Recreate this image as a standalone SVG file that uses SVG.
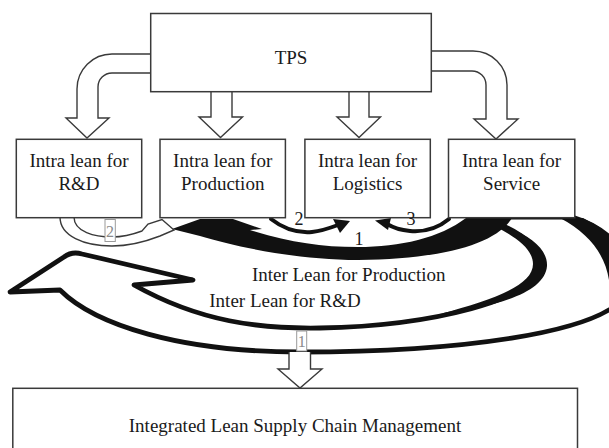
<svg xmlns="http://www.w3.org/2000/svg" width="609" height="448" viewBox="0 0 609 448">
  <style>
    .box { fill: #ffffff; stroke: #3a3a3a; stroke-width: 1.5; }
    .txt { font-family: "Liberation Serif", "Times New Roman", serif; font-size: 19px; fill: #1a1a1a; text-anchor: middle; }
    .num { font-family: "Liberation Serif", "Times New Roman", serif; font-size: 18px; fill: #1a1a1a; text-anchor: middle; }
    .tag { font-family: "Liberation Serif", "Times New Roman", serif; font-size: 16px; fill: #8a8a8a; text-anchor: middle; }
    .tagbox { fill: #ffffff; stroke: #9a9a9a; stroke-width: 1; }
    .hollow { fill: #ffffff; stroke: #3a3a3a; stroke-width: 1.4; stroke-linejoin: miter; }
    .bold { fill: #ffffff; stroke: #111111; stroke-width: 4.8; stroke-linejoin: round; }
    .ink { fill: #111111; stroke: none; }
    .inkline { fill: none; stroke: #111111; stroke-linecap: round; }
  </style>

  <!-- connectors -->
  <g id="connectors">
    <!-- TPS fan-out block arrows -->
    <path class="hollow" d="M 151,54 L 112,54 A 35,35 0 0 0 77,89 L 77,118 L 66,118 L 87,138 L 109,118 L 98,118 L 98,87 A 14,14 0 0 1 112,73 L 151,73 Z"/>
    <path class="hollow" d="M 211,91 L 211,117 L 199,117 L 220.5,137.5 L 242.5,117 L 232,117 L 232,91"/>
    <path class="hollow" d="M 349,91 L 349,117 L 337,117 L 359,137.5 L 380.5,117 L 369,117 L 369,91"/>
    <path class="hollow" d="M 431,51 L 473,51 A 34,34 0 0 1 507,85 L 507,119 L 518,119 L 496,139 L 474,119 L 486,119 L 486,85 A 14,14 0 0 0 472,71 L 431,71 Z"/>

    <!-- Inter Lean for R&D: large hollow curved arrow -->
    <path class="bold" d="M 10,292 L 64,257 Q 72,251 82,254 L 193,280 L 134,285 C 200,322 260,329 320,328 C 430,326 540,300 540,264 C 540,242 510,226 478,217 L 572,217 C 615,230 640,265 628,292 C 605,335 450,352 300,352 C 180,352 95,325 60,290 Z"/>
    <!-- heavier shading on the right side of the rings -->
    <path class="ink" d="M 478,218 C 520,228 548,245 547,266 C 545,292 500,306 440,314 C 492,300 533,286 533,264 C 533,246 508,232 478,218 Z"/>
    <path class="ink" d="M 560,218 L 583,218 C 612,232 628,252 626,275 L 609,280 C 605,255 590,234 560,218 Z"/>

    <!-- Inter Lean for Production: solid curved arrow -->
    <path class="ink" d="M 172,229 L 200,219 L 233,219 L 262,229 L 250,230 C 290,242 320,247 358,247 C 400,247 440,238 466,218 L 512,218 C 495,245 440,259 358,260 C 300,260 240,248 200,236 Z"/>

    <!-- intra R&D -> Production hollow arrow -->
    <path class="hollow" d="M 74,217 C 74,232 95,237 112,237 C 124,237 134,234 142,231 L 148,224 L 162,219.5 L 174,230 L 160,236 C 142,243 126,246 112,246 C 84,246 60,236 60,217 Z"/>

    <!-- intra Production -> Logistics -->
    <path class="inkline" stroke-width="4" d="M 271,219 C 285,230 300,233 312,232 C 322,231 330,228 338,225"/>
    <path class="ink" d="M 350,221 L 333,219 L 340,233 Z"/>

    <!-- intra Service -> Logistics -->
    <path class="inkline" stroke-width="4" d="M 449,219 C 437,229 422,232 410,231 C 400,230 392,227 387,224"/>
    <path class="ink" d="M 375,220.5 L 391,218 L 388,230 Z"/>

    <!-- down to integrated management -->
    <path class="hollow" d="M 289,352 L 289,369 L 278,369 L 300,388 L 322,369 L 310.5,369 L 310.5,352"/>
  </g>

  <!-- nodes -->
  <g id="tps">
    <rect class="box" x="150.7" y="13.5" width="280.6" height="78.2"/>
    <text class="txt" x="291" y="63.5">TPS</text>
  </g>
  <g id="intra-rd">
    <rect class="box" x="16.3" y="139.3" width="125.4" height="78.4"/>
    <text class="txt" x="79" y="167">Intra lean for</text>
    <text class="txt" x="79" y="190">R&amp;D</text>
  </g>
  <g id="intra-production">
    <rect class="box" x="160" y="139.3" width="125.4" height="78.4"/>
    <text class="txt" x="222.7" y="167">Intra lean for</text>
    <text class="txt" x="222.7" y="190">Production</text>
  </g>
  <g id="intra-logistics">
    <rect class="box" x="304.9" y="139.3" width="125.4" height="78.4"/>
    <text class="txt" x="367.6" y="167">Intra lean for</text>
    <text class="txt" x="367.6" y="190">Logistics</text>
  </g>
  <g id="intra-service">
    <rect class="box" x="448.5" y="139.3" width="126.3" height="78.4"/>
    <text class="txt" x="511.6" y="167">Intra lean for</text>
    <text class="txt" x="511.6" y="190">Service</text>
  </g>
  <g id="integrated">
    <rect class="box" x="12.8" y="388.3" width="564.7" height="72"/>
    <text class="txt" x="295" y="431.5">Integrated Lean Supply Chain Management</text>
  </g>

  <!-- flow labels -->
  <g id="labels">
    <rect class="tagbox" x="105" y="219.5" width="10.3" height="22"/>
    <text class="tag" x="110.1" y="236.5">2</text>
    <rect class="tagbox" x="296.7" y="331" width="10" height="20"/>
    <text class="tag" x="301.7" y="347">1</text>
    <text class="num" x="299" y="225">2</text>
    <text class="num" x="411" y="225">3</text>
    <text class="num" x="359" y="245">1</text>
    <text class="txt" x="348.7" y="280.7">Inter Lean for Production</text>
    <text class="txt" x="285" y="306.7">Inter Lean for R&amp;D</text>
  </g>
</svg>
